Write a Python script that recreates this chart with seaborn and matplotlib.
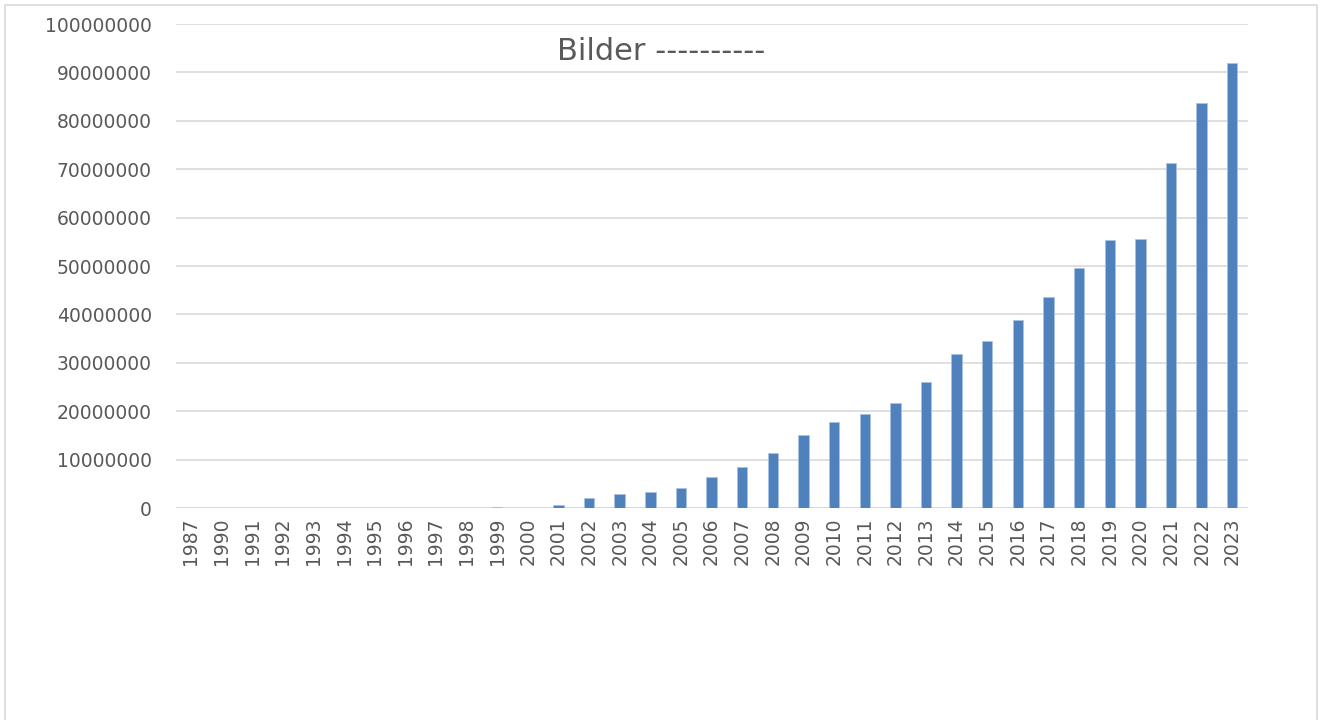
import numpy as np
import pandas as pd
import matplotlib
matplotlib.use('Agg')
import matplotlib.pyplot as plt
import matplotlib.patches as patches
import seaborn as sns

years = ['1987', '1990', '1991', '1992', '1993', '1994', '1995', '1996', '1997',
         '1998', '1999', '2000', '2001', '2002', '2003', '2004', '2005', '2006',
         '2007', '2008', '2009', '2010', '2011', '2012', '2013', '2014', '2015',
         '2016', '2017', '2018', '2019', '2020', '2021', '2022', '2023']
bilder = [0, 0, 0, 0, 0, 0, 0, 0, 0,
          0, 300000, 50000, 600000, 2100000, 3000000, 3300000, 4100000, 6400000,
          8400000, 11400000, 15000000, 17700000, 19400000, 21800000, 26100000, 31900000, 34600000,
          38800000, 43700000, 49600000, 55400000, 55600000, 71200000, 83700000, 92000000]
yticks = np.arange(0, 100000001, 10000000)

df = pd.DataFrame({'year': years, 'bilder': bilder})

sns.set_style("white")
plt.rcParams['font.family'] = ['DejaVu Sans']

fig = plt.figure(figsize=(13.22, 7.2), dpi=100)
ax = fig.add_axes([0.1328, 0.2944, 0.8109, 0.6722])

sns.barplot(data=df, x='year', y='bilder', color='#4f81bd', saturation=1,
            width=0.34, edgecolor='#a9c1e3', linewidth=0.6, ax=ax, zorder=3)

ax.set_ylim(0, 100000000)
ax.set_yticks(yticks)
ax.set_yticklabels([str(v) for v in yticks])
ax.yaxis.grid(True, color='#d9d9d9', linewidth=1.2, zorder=0)
ax.set_axisbelow(True)
for loc, spine in ax.spines.items():
    spine.set_color('none')
ax.axhline(0, color='#d9d9d9', linewidth=1.4, zorder=2)
ax.tick_params(axis='y', length=0, pad=17, labelsize=13.5, labelcolor='#595959')
ax.tick_params(axis='x', length=0, pad=7, labelsize=13.5, labelcolor='#595959', rotation=90)
ax.set_xlabel('')
ax.set_ylabel('')

fig.text(0.5, 1 - 51 / 720, 'Bilder ----------', ha='center', va='center',
         fontsize=22, color='#595959')

# chart area border
fig.patches.append(patches.Rectangle((5 / 1322, -0.05), 1312 / 1322, 1.05 - 5 / 720,
                                     transform=fig.transFigure, fill=False,
                                     edgecolor='#d9d9d9', linewidth=1.2))

fig.savefig('out.png', dpi=100)
